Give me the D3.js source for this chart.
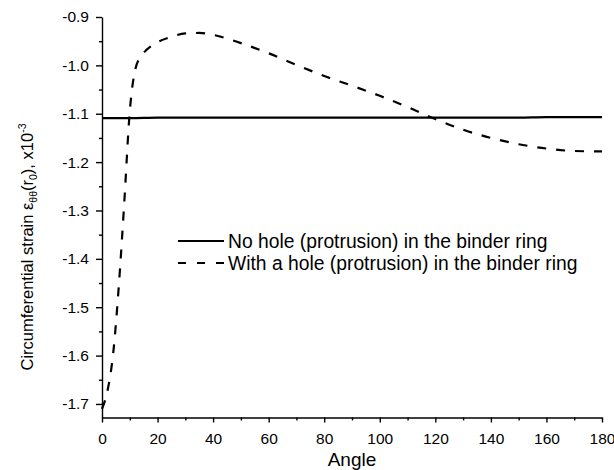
<!DOCTYPE html>
<html>
<head>
<meta charset="utf-8">
<script src="https://cdn.jsdelivr.net/npm/d3@7"></script>
<style>
  body { margin: 0; background: #fff; }
  svg { font-family: "Liberation Sans", Arial, sans-serif; }
  .axis path, .axis line { stroke: #000; stroke-width: 1.4; }
  .axis text { font-size: 15.5px; fill: #000; }
</style>
</head>
<body>
<div id="chart"></div>
<script>
// data
const angles = [0, 2, 4, 6, 8, 10, 12, 14, 16, 18, 20, 25, 30, 35, 40, 50, 60, 70, 80, 90, 100, 110, 120, 130, 140, 150, 160, 170, 180];
const withHole = [-1.71, -1.672, -1.597, -1.46, -1.285, -1.095, -1.008, -0.982, -0.968, -0.959, -0.952, -0.941, -0.934, -0.933, -0.937, -0.954, -0.975, -0.999, -1.022, -1.042, -1.063, -1.086, -1.111, -1.133, -1.15, -1.163, -1.172, -1.177, -1.178];
const noHoleAngles = [0, 10, 20, 30, 40, 50, 60, 70, 80, 90, 100, 110, 120, 130, 140, 150, 160, 170, 180];
const noHole = [-1.109, -1.109, -1.108, -1.108, -1.108, -1.108, -1.108, -1.108, -1.108, -1.108, -1.108, -1.108, -1.108, -1.108, -1.108, -1.108, -1.107, -1.107, -1.107];
const xTicks = [0, 20, 40, 60, 80, 100, 120, 140, 160, 180];
const xMinor = [10, 30, 50, 70, 90, 110, 130, 150, 170];
const yTicks = [-1.7, -1.6, -1.5, -1.4, -1.3, -1.2, -1.1, -1.0, -0.9];
const yMinor = [-1.65, -1.55, -1.45, -1.35, -1.25, -1.15, -1.05, -0.95];
const legendLabels = ["No hole (protrusion) in the binder ring", "With a hole (protrusion) in the binder ring"];

const svg = d3.select("#chart").append("svg")
  .attr("width", 614)
  .attr("height", 470);

const margin = {top: 17, right: 12, bottom: 52.5, left: 102};
const width = 614 - margin.left - margin.right;
const height = 470 - margin.top - margin.bottom;

const x = d3.scaleLinear().domain([0, 180]).range([0, width]);
const y = d3.scaleLinear().domain([-1.728, -0.9]).range([height, 0]);

const g = svg.append("g")
  .attr("transform", "translate(" + margin.left + "," + margin.top + ")");

// minor ticks
g.append("g")
  .attr("class", "axis")
  .attr("transform", "translate(0," + height + ")")
  .call(d3.axisBottom(x).tickValues(xMinor).tickSize(3).tickFormat(""))
  .select(".domain").remove();
g.append("g")
  .attr("class", "axis")
  .call(d3.axisLeft(y).tickValues(yMinor).tickSize(3).tickFormat(""))
  .select(".domain").remove();

// major axes
g.append("g")
  .attr("class", "axis")
  .attr("transform", "translate(0," + height + ")")
  .call(d3.axisBottom(x).tickValues(xTicks).tickSize(5).tickSizeOuter(0).tickPadding(10));
g.append("g")
  .attr("class", "axis")
  .call(d3.axisLeft(y).tickValues(yTicks).tickSize(6).tickSizeOuter(0).tickPadding(7)
    .tickFormat(d => d3.format(".1f")(d).replace("\u2212", "-")));

const line = d3.line()
  .curve(d3.curveMonotoneX)
  .x(d => x(d[0]))
  .y(d => y(d[1]));

g.append("path")
  .datum(noHoleAngles.map((a, i) => [a, noHole[i]]))
  .attr("fill", "none")
  .attr("stroke", "#000")
  .attr("stroke-width", 2.2)
  .attr("d", line);

g.append("path")
  .datum(angles.map((a, i) => [a, withHole[i]]))
  .attr("fill", "none")
  .attr("stroke", "#000")
  .attr("stroke-width", 2.2)
  .attr("stroke-dasharray", "9,10")
  .attr("d", line);

// legend
const legend = svg.append("g").attr("transform", "translate(178,241)");
legendLabels.forEach(function(lbl, i) {
  const row = legend.append("g").attr("transform", "translate(0," + (i * 22) + ")");
  row.append("line")
    .attr("x1", 0).attr("x2", 46)
    .attr("stroke", "#000")
    .attr("stroke-width", 2)
    .attr("stroke-dasharray", i === 1 ? "8,11" : null);
  row.append("text")
    .attr("x", 50)
    .attr("y", 7)
    .attr("font-size", 19.3)
    .text(lbl);
});

// axis titles
svg.append("text")
  .attr("x", margin.left + width / 2)
  .attr("y", 466)
  .attr("text-anchor", "middle")
  .attr("font-size", 19)
  .text("Angle");

const yl = svg.append("text")
  .attr("transform", "translate(33,247) rotate(-90)")
  .attr("text-anchor", "middle")
  .attr("font-size", 16.5);
yl.append("tspan").text("Circumferential strain \u03b5");
yl.append("tspan").attr("font-size", 10.5).attr("dy", 4).text("\u03b8\u03b8");
yl.append("tspan").attr("dy", -4).text("(r");
yl.append("tspan").attr("font-size", 10.5).attr("dy", 4).text("0");
yl.append("tspan").attr("dy", -4).text("), x10");
yl.append("tspan").attr("font-size", 10.5).attr("dy", -7).text("-3");
</script>
</body>
</html>
